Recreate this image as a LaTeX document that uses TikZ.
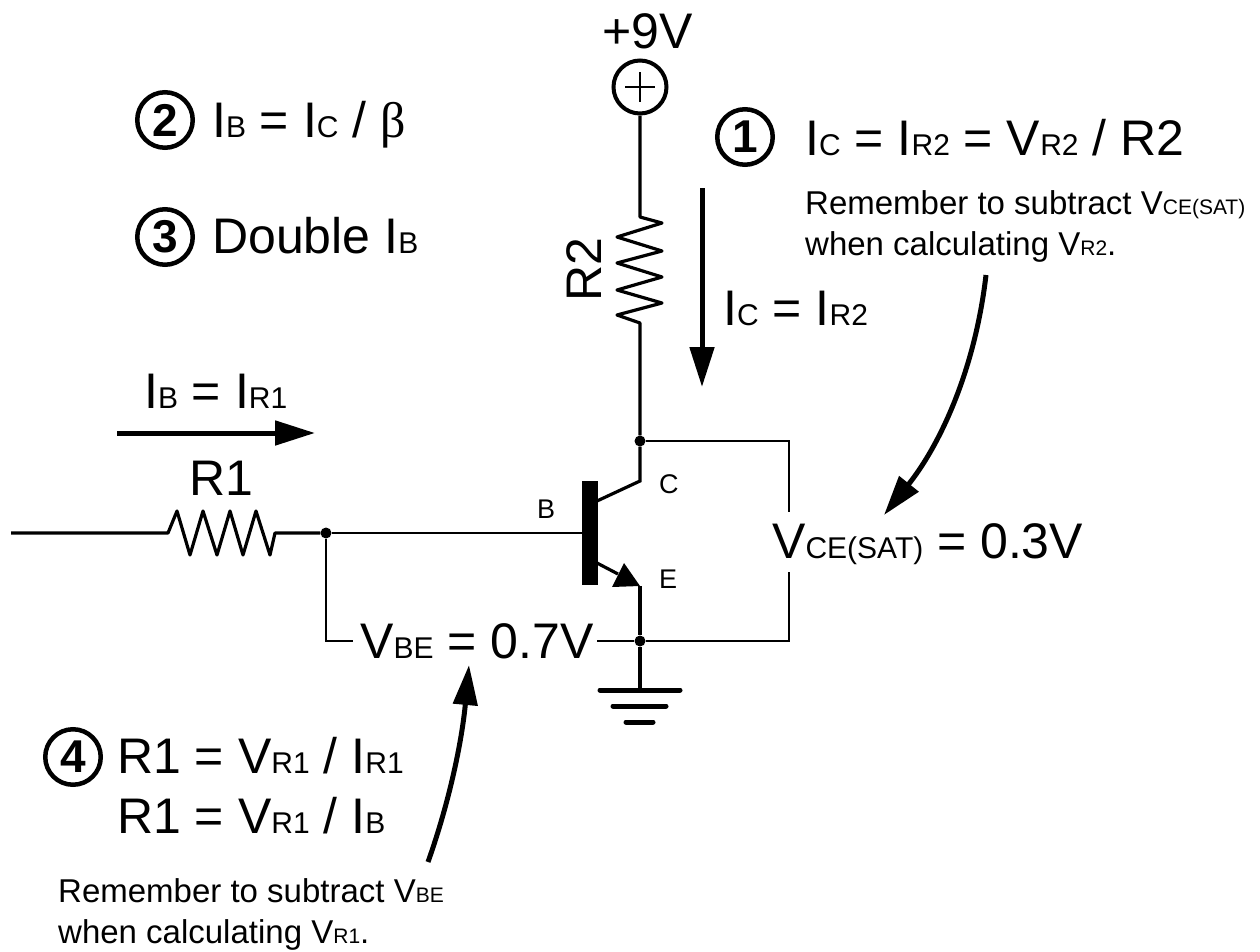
\documentclass[tikz,border=0pt]{standalone}
\usepackage{fontspec}
\setmainfont{Liberation Sans}
\newfontfamily\betafont{Liberation Serif}
\usetikzlibrary{arrows.meta}
\newcommand{\bigsub}[1]{{\fontsize{30bp}{30bp}\selectfont #1}}
\newcommand{\smallsub}[1]{{\fontsize{21bp}{21bp}\selectfont #1}}
\tikzset{
  wire/.style={line width=3.2bp},
  basewire/.style={line width=2.5bp},
  thinwire/.style={line width=2bp},
  pointer/.style={line width=5bp,-{Triangle[length=40bp,width=24bp]}},
  bigtext/.style={anchor=base west,inner sep=0pt,font=\fontsize{50bp}{50bp}\selectfont},
  smalltext/.style={anchor=base west,inner sep=0pt,align=left,font=\fontsize{33bp}{41bp}\selectfont},
  pinlabel/.style={anchor=base west,inner sep=0pt,font=\fontsize{27bp}{27bp}\selectfont},
  stepmark/.style={circle,draw,line width=4.5bp,minimum size=55.5bp,inner sep=0pt,font=\fontsize{46bp}{46bp}\selectfont\bfseries},
  junction/.style={circle,fill=black,minimum size=11bp,inner sep=0pt},
  groundbar/.style={line width=5bp,line cap=round},
}
\begin{document}
\begin{tikzpicture}[x=1bp,y=-1bp]
\useasboundingbox (0,0) rectangle (1260,952);
%% step marks and equations
\node[stepmark] (step_1) at (745,137) {1};
\node[stepmark] (step_2) at (165,120) {2};
\node[stepmark] (step_3) at (165,237) {3};
\node[stepmark] (step_4) at (73,757) {4};
\node[bigtext] (eq_1) at (805,155) {I\bigsub{C} = I\bigsub{R2} = V\bigsub{R2} / R2};
\node[bigtext] (eq_2) at (212,137) {I\bigsub{B} = I\bigsub{C} / {\betafont β}};
\node[bigtext] (eq_3) at (212,253) {Double I\bigsub{B}};
\node[bigtext] (eq_4a) at (117,773) {R1 = V\bigsub{R1} / I\bigsub{R1}};
\node[bigtext] (eq_4b) at (117,833) {R1 = V\bigsub{R1} / I\bigsub{B}};
\node[smalltext] (note_r2) at (805,255) {Remember to subtract V\smallsub{CE(SAT)}\\when calculating V\smallsub{R2}.};
\node[smalltext] (note_r1) at (58,943) {Remember to subtract V\smallsub{BE}\\when calculating V\smallsub{R1}.};
%% circuit labels
\node[bigtext] (lab_supply) at (602,48) {+9V};
\node[bigtext,rotate=90] (lab_r2) at (601,302) {R2};
\node[bigtext] (lab_r1) at (189,495) {R1};
\node[bigtext] (lab_ic) at (723,325) {I\bigsub{C} = I\bigsub{R2}};
\node[bigtext] (lab_ib) at (144,408) {I\bigsub{B} = I\bigsub{R1}};
\node[bigtext] (lab_vce) at (772,558) {V\bigsub{CE(SAT)} = 0.3V};
\node[bigtext] (lab_vbe) at (360,658) {V\bigsub{BE} = 0.7V};
\node[pinlabel] (pin_b) at (537,518) {B};
\node[pinlabel] (pin_c) at (659,493) {C};
\node[pinlabel] (pin_e) at (659,588) {E};
%% supply
\node[circle,draw,line width=4bp,minimum size=53bp,inner sep=0pt] (supply) at (640,87) {};
\draw[line width=2.5bp] (625,87) -- (655,87) (640,72) -- (640,102);
%% junctions
\node[junction] (node_c) at (640,441) {};
\node[junction] (node_e) at (640,641) {};
\node[junction] (node_b) at (326,533) {};
\coordinate (in) at (11,533);
\coordinate (bar_b) at (582,533);
\coordinate (gnd) at (640,690);
%% resistors
\draw[wire,line join=round] (supply) -- (640,217) -- (662,223) -- (617,237) -- (662,251) -- (617,263) -- (662,277) -- (617,290) -- (662,303) -- (617,315) -- (640,323) -- (node_c);
\draw[wire,line join=round] (in) -- (168,533) -- (177,511) -- (190,555) -- (203,511) -- (217,555) -- (230,511) -- (243,555) -- (256,511) -- (270,555) -- (275,533) -- (node_b);
\draw[basewire] (node_b) -- (bar_b);
%% transistor
\fill (582,481) rectangle (598,585);
\draw[wire] (597,501) -- (640,481) -- (node_c);
\draw[wire] (597,563) -- (618,574);
\fill (624,563) -- (640,586) -- (612,587) -- cycle;
\draw[wire] (640,586) -- (node_e);
\draw[wire] (node_e) -- (gnd);
\draw[groundbar] (600,690) -- (680,690);
\draw[groundbar] (613,706) -- (666,706);
\draw[groundbar] (626,722) -- (653,722);
%% measuring wires
\draw[thinwire] (node_c) -- (789,441) -- (789,512);
\draw[thinwire] (789,572) -- (789,641) -- (node_e);
\draw[thinwire] (node_b) -- (326,641) -- (353,641);
\draw[thinwire] (597,641) -- (node_e);
%% arrows
\coordinate (ib_from) at (117,433);
\coordinate (ib_to) at (315,433);
\coordinate (ic_from) at (702,188);
\coordinate (ic_to) at (702,387);
\draw[pointer] (ib_from) -- (ib_to);
\draw[pointer] (ic_from) -- (ic_to);
\draw[pointer] (986,275) .. controls (975,370) and (940,445) .. (884,515);
\draw[pointer] (428,862) .. controls (450,800) and (462,740) .. (469,665);
\end{tikzpicture}
\end{document}
